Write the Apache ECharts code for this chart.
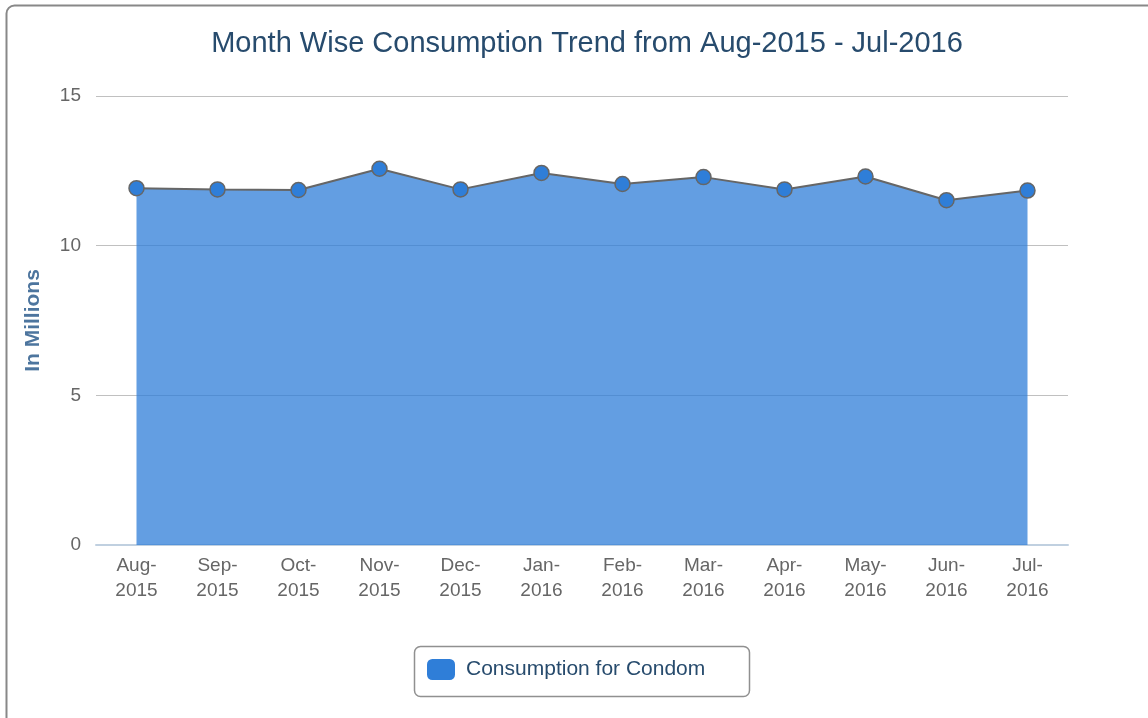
<!DOCTYPE html>
<html>
<head>
<meta charset="utf-8">
<title>Month Wise Consumption Trend</title>
<script src="https://cdn.jsdelivr.net/npm/echarts@6/dist/echarts.min.js"></script>
<style>
  html, body { margin: 0; padding: 0; background: #fff; }
  #chart { width: 1148px; height: 718px; }
</style>
</head>
<body>
<div id="chart"></div>
<script>
// months on the x axis (two-line labels)
var months = ["Aug-\n2015", "Sep-\n2015", "Oct-\n2015", "Nov-\n2015", "Dec-\n2015", "Jan-\n2016",
              "Feb-\n2016", "Mar-\n2016", "Apr-\n2016", "May-\n2016", "Jun-\n2016", "Jul-\n2016"];
// consumption, in millions
var consumption = [11.92, 11.88, 11.86, 12.57, 11.88, 12.43, 12.06, 12.29, 11.88, 12.31, 11.52, 11.84];
var seriesName = "Consumption for Condom";
var chartTitle = "Month Wise Consumption Trend from Aug-2015 - Jul-2016";

var font = "'Liberation Sans', Arial, sans-serif";
var chart = echarts.init(document.getElementById("chart"));

var option = {
  animation: false,
  textStyle: { fontFamily: font },
  title: {
    text: chartTitle,
    left: 582,
    top: 24,
    textAlign: "center",
    textStyle: { color: "#274b6d", fontSize: 29, fontWeight: "normal", fontFamily: font }
  },
  grid: { left: 96, right: 80, top: 96, bottom: 173 },
  legend: {
    left: 422,
    top: 654,
    icon: "roundRect",
    itemWidth: 28,
    itemHeight: 21,
    itemStyle: { borderWidth: 0 },
    textStyle: { color: "#274b6d", fontSize: 21, fontFamily: font, padding: [3, 0, 0, 6] },
    data: [seriesName]
  },
  xAxis: {
    type: "category",
    data: months,
    boundaryGap: true,
    axisLine: { lineStyle: { color: "#c0d0e0", width: 2 } },
    axisTick: { alignWithLabel: true, length: 8, lineStyle: { color: "#c0d0e0", width: 1 } },
    axisLabel: { color: "#666", fontSize: 19, lineHeight: 25, margin: 8, interval: 0, fontFamily: font }
  },
  yAxis: {
    type: "value",
    min: 0,
    max: 15,
    interval: 5,
    name: "In Millions",
    nameLocation: "middle",
    nameGap: 52,
    nameTextStyle: { color: "#4d759e", fontSize: 21, fontWeight: "bold", fontFamily: font },
    axisLine: { show: false },
    axisTick: { show: false },
    axisLabel: { color: "#666", fontSize: 19, margin: 15, fontFamily: font },
    splitLine: { lineStyle: { color: "#c0c0c0", width: 1 } }
  },
  series: [{
    name: seriesName,
    type: "line",
    data: consumption,
    symbol: "circle",
    symbolSize: 15,
    itemStyle: { color: "#2f7ed8", borderColor: "#666", borderWidth: 1.5 },
    lineStyle: { color: "#666", width: 2 },
    areaStyle: { color: "#2f7ed8", opacity: 0.75 },
    z: 2
  }],
  graphic: [
    {
      // outer frame, runs off the right and bottom edges
      type: "rect",
      shape: { x: 6.5, y: 5.5, width: 1300, height: 900, r: 8 },
      style: { fill: null, stroke: "#888", lineWidth: 2 },
      silent: true
    },
    {
      // legend box
      type: "rect",
      shape: { x: 414.5, y: 646.5, width: 335, height: 50, r: 6 },
      style: { fill: null, stroke: "#909090", lineWidth: 1.5 },
      silent: true
    }
  ]
};

chart.setOption(option);
</script>
</body>
</html>
